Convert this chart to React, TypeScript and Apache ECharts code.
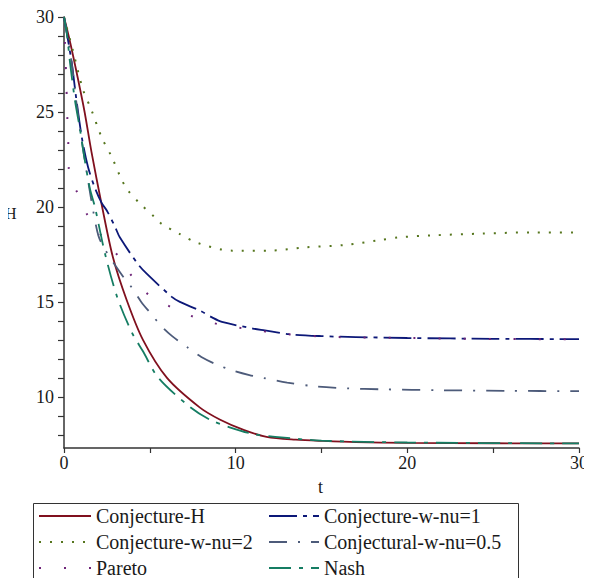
import React, { useEffect, useRef } from "react";
import * as echarts from "echarts";

// ---- data ----
const tConjH = [0, 0.35, 0.8, 1.2, 1.6, 2.2, 2.85, 3.65, 4.6, 6.0, 7.9, 9.1, 10.5, 11.8, 13.5, 15.1, 17, 20, 25, 30];
const hConjH = [30, 28.7, 26.8, 25.0, 22.9, 20.1, 17.35, 15.1, 13.0, 11.0, 9.45, 8.8, 8.25, 7.9, 7.75, 7.68, 7.62, 7.58, 7.56, 7.55];

const tNu1 = [0, 0.45, 0.7, 1.05, 1.4, 1.8, 2.2, 2.5, 3.0, 3.25, 4.3, 4.8, 6.3, 6.75, 7.9, 8.6, 9.2, 11, 11.7, 13.1, 15, 17, 20, 25, 30];
const hNu1 = [30, 27.6, 25.8, 23.6, 22.1, 21.0, 20.2, 19.8, 18.9, 18.4, 17.0, 16.5, 15.25, 15.0, 14.55, 14.2, 13.95, 13.6, 13.5, 13.3, 13.2, 13.15, 13.1, 13.06, 13.04];

const tNu2 = [0, 0.5, 1.1, 1.6, 2.2, 2.8, 3.3, 3.7, 4.4, 5.3, 5.7, 6.7, 7.8, 9.8, 12, 14, 16.4, 18.3, 19.5, 21.4, 24.4, 27.3, 30];
const hNu2 = [30, 28.3, 26.2, 25.1, 23.65, 22.6, 21.55, 20.9, 20.2, 19.45, 19.1, 18.6, 18.1, 17.7, 17.7, 17.87, 18.0, 18.24, 18.4, 18.5, 18.6, 18.66, 18.66];

const tNu05 = [0, 0.4, 0.75, 1.05, 1.4, 1.7, 2.0, 2.3, 3.0, 3.55, 3.95, 4.5, 5.0, 5.75, 6.3, 7.2, 8.0, 8.9, 9.8, 10.8, 11.6, 13, 14.7, 16.5, 18.5, 22, 26, 30];
const hNu05 = [30, 27.9, 25.3, 23.4, 21.4, 19.8, 18.5, 17.9, 16.9, 16.2, 15.75, 15.0, 14.45, 13.65, 13.2, 12.6, 12.1, 11.7, 11.4, 11.15, 11.0, 10.75, 10.55, 10.45, 10.4, 10.35, 10.32, 10.3];

const tPareto = [0, 0.12, 0.2, 0.25, 0.28, 0.45, 0.75, 1.35, 2, 3, 4, 4.9, 6.3, 7.6, 9.1, 10.5, 13, 16, 20, 25, 30];
const hPareto = [30, 27, 24.5, 23.3, 22.0, 21.3, 20.8, 19.6, 18.7, 17.6, 16.3, 15.4, 14.7, 14.2, 13.8, 13.6, 13.3, 13.15, 13.1, 13.05, 13.03];

const tNash = [0, 0.17, 0.35, 0.64, 0.93, 1.15, 1.5, 1.8, 2.4, 3.1, 3.95, 4.6, 5.5, 7.3, 8.5, 9.65, 11, 12.3, 15, 20, 30];
const hNash = [30, 29.1, 27.6, 25.6, 24.1, 22.8, 21.0, 20.0, 17.5, 15.25, 13.4, 12.4, 11.0, 9.5, 8.8, 8.4, 8.05, 7.9, 7.7, 7.6, 7.55];

const yLabelValues = [10, 15, 20, 25, 30];
const yTickValues = [8, 9, 10, 11, 12, 13, 14, 15, 16, 17, 18, 19, 20, 21, 22, 23, 24, 25, 26, 27, 28, 29, 30];
const xLabelValues = [0, 10, 20, 30];
const xTickValues = [0, 5, 10, 15, 20, 25, 30];

const zip = (t: number[], h: number[]) => t.map((v, i) => [v, h[i]]);

const FONT = "Liberation Serif";

export default function App() {
  const ref = useRef<HTMLDivElement>(null);
  useEffect(() => {
    if (!ref.current) return;
    const chart = echarts.init(ref.current, null, { renderer: "svg" });
    const mk = (name: string, t: number[], h: number[], color: string, type: any, width = 1.6) => ({
      name,
      type: "line",
      data: zip(t, h),
      smooth: 0.3,
      symbol: "none",
      showSymbol: false,
      lineStyle: { color, width, type, cap: "butt" },
      itemStyle: { color },
    });
    const legendText = { fontFamily: FONT, fontSize: 20, color: "#1a1a1a", lineHeight: 20 };
    const legendCommon = {
      orient: "vertical",
      top: 506,
      itemHeight: 14,
      itemGap: 6,
      padding: 0,
      textStyle: legendText,
      itemStyle: { opacity: 0 },
    };
    chart.setOption({
      animation: false,
      backgroundColor: "#ffffff",
      grid: { left: 64, right: 13, top: 17, bottom: 138, containLabel: false },
      xAxis: {
        type: "value",
        min: 0,
        max: 30,
        interval: 5,
        axisLine: { onZero: false, lineStyle: { color: "#333", width: 1.5 } },
        axisTick: { show: true, length: 5, inside: false, lineStyle: { color: "#333", width: 1.2 }, customValues: xTickValues },
        axisLabel: { customValues: xLabelValues, fontFamily: FONT, fontSize: 18, color: "#1a1a1a", margin: 6 },
        splitLine: { show: false },
      },
      yAxis: {
        type: "value",
        min: 7.31,
        max: 30,
        axisLine: { show: true, lineStyle: { color: "#333", width: 1.5 } },
        axisTick: { show: true, length: 6, lineStyle: { color: "#333", width: 1.2 }, customValues: yTickValues },
        axisLabel: { customValues: yLabelValues, fontFamily: FONT, fontSize: 18, color: "#1a1a1a", margin: 10 },
        splitLine: { show: false },
      },
      legend: [
        {
          ...legendCommon,
          left: 38,
          itemWidth: 52,
          data: ["Conjecture-H", "Conjecture-w-nu=2", "Pareto"],
        },
        {
          ...legendCommon,
          left: 268,
          itemWidth: 50,
          data: ["Conjecture-w-nu=1", "Conjectural-w-nu=0.5", "Nash"],
        },
      ],
      graphic: [
        {
          type: "rect",
          shape: { x: 33.5, y: 503.5, width: 485, height: 100 },
          style: { fill: "none", stroke: "#333", lineWidth: 1 },
          silent: true,
        },
        {
          type: "text",
          left: 5,
          top: 205,
          style: { text: "H", fontFamily: FONT, fontSize: 16, fill: "#1a1a1a" },
        },
        {
          type: "text",
          left: 318,
          top: 478,
          style: { text: "t", fontFamily: FONT, fontSize: 18, fill: "#1a1a1a" },
        },
      ],
      series: [
        mk("Conjecture-H", tConjH, hConjH, "#80101e", "solid", 1.8),
        mk("Conjecture-w-nu=1", tNu1, hNu1, "#0c1878", [28, 6, 4, 6], 1.8),
        mk("Conjecture-w-nu=2", tNu2, hNu2, "#56761e", [2, 9], 2),
        mk("Conjectural-w-nu=0.5", tNu05, hNu05, "#4d5b7a", [18, 11, 2, 11], 1.8),
        mk("Pareto", tPareto, hPareto, "#6e2478", [2, 23], 2),
        mk("Nash", tNash, hNash, "#157d63", [22, 8, 4, 8], 1.8),
      ],
    });
    return () => chart.dispose();
  }, []);
  return <div ref={ref} style={{ width: 592, height: 586, margin: -8 }} />;
}
